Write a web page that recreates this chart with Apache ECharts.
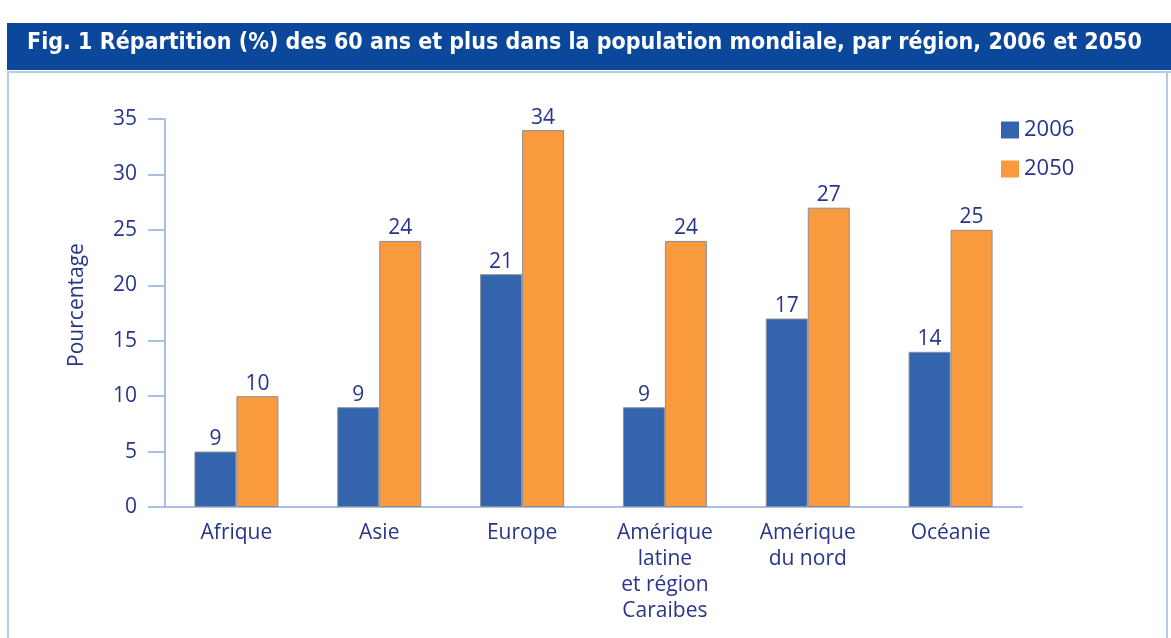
<!DOCTYPE html>
<html lang="fr">
<head>
    <meta charset="UTF-8">
    <title>Répartition des 60 ans et plus</title>
    <script src="https://cdn.jsdelivr.net/npm/echarts@6/dist/echarts.min.js"></script>
    <style>
        html, body { margin: 0; padding: 0; background: #fff; }
        #main { width: 1171px; height: 638px; }
    </style>
</head>
<body>
<div id="main"></div>

<script type="text/javascript">
    // données
    var regions = ['Afrique', 'Asie', 'Europe', 'Amérique\nlatine\net région\nCaraibes', 'Amérique\ndu nord', 'Océanie'];
    var val2006 = [5, 9, 21, 9, 17, 14];      // hauteur des barres
    var lab2006 = [9, 9, 21, 9, 17, 14];      // étiquettes affichées
    var val2050 = [10, 24, 34, 24, 27, 25];
    var yTicks = [0, 5, 10, 15, 20, 25, 30, 35];

    var txt = '#28358a';
    var axisCol = '#a9bfdf';
    var font = 'Open Sans';

    var myChart = echarts.init(document.getElementById('main'));

    var option = {
        backgroundColor: '#fff',
        textStyle: { fontFamily: font },
        graphic: [
            { type: 'rect', shape: { x: 7, y: 23, width: 1164, height: 47 }, style: { fill: '#0b479b' } },
            { type: 'line', shape: { x1: 7, y1: 72, x2: 1171, y2: 72 }, style: { stroke: '#b8cbe6', lineWidth: 2 } },
            { type: 'line', shape: { x1: 8, y1: 72, x2: 8, y2: 638 }, style: { stroke: '#b8cbe6', lineWidth: 2 } },
            { type: 'line', shape: { x1: 1167, y1: 72, x2: 1167, y2: 638 }, style: { stroke: '#b8cbe6', lineWidth: 2 } },
            {
                type: 'text', left: 27, top: 32,
                style: {
                    text: 'Fig. 1 Répartition (%) des 60 ans et plus dans la population mondiale, par région, 2006 et 2050',
                    fill: '#fff', font: 'bold 23px "DejaVu Sans Condensed", "Open Sans", sans-serif'
                }
            }
        ],
        legend: {
            orient: 'vertical',
            left: 996, top: 114,
            icon: 'rect',
            itemWidth: 18, itemHeight: 17, itemGap: 17,
            itemStyle: { borderWidth: 0 },
            textStyle: { color: txt, fontSize: 22, fontFamily: font },
            data: ['2006', '2050']
        },
        grid: { left: 165, right: 149, top: 119, bottom: 131 },
        xAxis: {
            type: 'category',
            data: regions,
            axisLine: { lineStyle: { color: axisCol, width: 2 } },
            axisTick: { length: 8, lineStyle: { color: axisCol, width: 2 } },
            axisLabel: { color: txt, fontSize: 21, lineHeight: 26, margin: 13, interval: 0 }
        },
        yAxis: {
            type: 'value',
            min: 0, max: 35, interval: 5,
            name: 'Pourcentage',
            nameLocation: 'middle',
            nameGap: 77,
            nameTextStyle: { color: txt, fontSize: 21, padding: [0, 0, 0, 16] },
            axisLine: { show: true, lineStyle: { color: axisCol, width: 2 } },
            axisTick: { show: true, length: 17, lineStyle: { color: axisCol, width: 2 } },
            splitLine: { show: false },
            axisLabel: {
                color: txt, fontSize: 21, margin: 28,
                formatter: function (v) { return yTicks.indexOf(v) >= 0 ? v : ''; }
            }
        },
        series: [
            {
                name: '2006', type: 'bar', data: val2006,
                barWidth: 42, barGap: '0%',
                itemStyle: { color: '#3464ad', borderColor: '#8a8f99', borderWidth: 1 },
                label: {
                    show: true, position: 'top', distance: 2,
                    color: txt, fontSize: 21,
                    formatter: function (p) { return lab2006[p.dataIndex]; }
                }
            },
            {
                name: '2050', type: 'bar', data: val2050,
                barWidth: 42,
                itemStyle: { color: '#fa9a3f', borderColor: '#8a8f99', borderWidth: 1 },
                label: { show: true, position: 'top', distance: 2, color: txt, fontSize: 21 }
            }
        ]
    };

    myChart.setOption(option);
</script>
</body>
</html>
